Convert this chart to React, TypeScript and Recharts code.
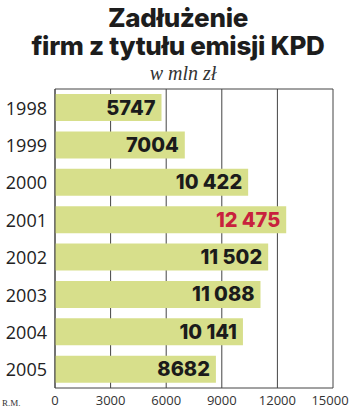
import { BarChart, Bar, XAxis, YAxis, CartesianGrid, LabelList } from 'recharts';

const years = ['1998', '1999', '2000', '2001', '2002', '2003', '2004', '2005'];
const debt = [5747, 7004, 10422, 12475, 11502, 11088, 10141, 8682];
const xTicks = [0, 3000, 6000, 9000, 12000, 15000];
const highlightYear = '2001';

const data = years.map((year, i) => ({ year, value: debt[i] }));

const fmt = (v: number) => (v >= 10000 ? `${Math.floor(v / 1000)} ${String(v % 1000).padStart(3, '0')}` : String(v));

const LINE = '#444';

function ValueLabel(props: any) {
  const { x, y, width, height, value, index } = props;
  const red = data[index]?.year === highlightYear;
  return (
    <text
      x={x + width - 6}
      y={y + height / 2}
      textAnchor="end"
      dominantBaseline="central"
      fontFamily="Inter, sans-serif"
      fontWeight={800}
      fontSize={20}
      fill={red ? '#c8213d' : '#1b1b1b'}
    >
      {fmt(value)}
    </text>
  );
}

function YearTick(props: any) {
  const { x, y, payload } = props;
  return (
    <text x={x} y={y} textAnchor="end" dominantBaseline="central" fontFamily="'Open Sans', sans-serif" fontSize={18} fill="#222">
      {payload.value}
    </text>
  );
}

function ValueTick(props: any) {
  const { x, y, payload, index } = props;
  const last = index === xTicks.length - 1;
  return (
    <text x={x} y={y} dx={last ? -3 : 0} dy="0.71em" textAnchor="middle" fontFamily="'Open Sans', sans-serif" fontSize={13} fill="#333">
      {payload.value}
    </text>
  );
}

export default function App() {
  return (
    <div style={{ position: 'absolute', left: 0, top: 0, width: 350, height: 411, background: '#fff', overflow: 'hidden' }}>
      <div style={{ position: 'absolute', left: 0, top: 4, width: 356, textAlign: 'center', fontFamily: 'Inter, sans-serif', fontWeight: 800, fontSize: 26, lineHeight: '28px', color: '#1d1d1d', letterSpacing: -0.3 }}>
        Zadłużenie
        <br />
        firm z tytułu emisji KPD
      </div>
      <div style={{ position: 'absolute', left: 0, top: 62, width: 366, textAlign: 'center', fontFamily: '"Liberation Serif", serif', fontStyle: 'italic', fontSize: 20, color: '#333' }}>
        w mln zł
      </div>
      <div style={{ position: 'absolute', left: 2, top: 398, fontFamily: '"Liberation Serif", serif', fontSize: 9, color: '#333' }}>R.M.</div>
      <div style={{ position: 'absolute', left: 0, top: 0 }}>
        <BarChart
          width={350}
          height={411}
          data={data}
          layout="vertical"
          margin={{ top: 89, right: 17, bottom: 0, left: 0 }}
          barSize={27}
        >
          <CartesianGrid
            stroke={LINE}
            strokeWidth={1}
            horizontal={true}
            horizontalCoordinatesGenerator={(p: any) => [p.offset.top]}
          />
          <XAxis
            type="number"
            dataKey="value"
            domain={[0, 15000]}
            ticks={xTicks}
            interval={0}
            height={23}
            tickLine={false}
            tickSize={0}
            tickMargin={8}
            axisLine={{ stroke: LINE }}
            tick={<ValueTick />}
          />
          <YAxis
            type="category"
            dataKey="year"
            width={55}
            tickLine={false}
            tickSize={0}
            tickMargin={8}
            axisLine={{ stroke: LINE }}
            tick={<YearTick />}
          />
          <Bar dataKey="value" fill="#d7df8b" isAnimationActive={false}>
            <LabelList dataKey="value" content={ValueLabel} />
          </Bar>
        </BarChart>
      </div>
    </div>
  );
}
